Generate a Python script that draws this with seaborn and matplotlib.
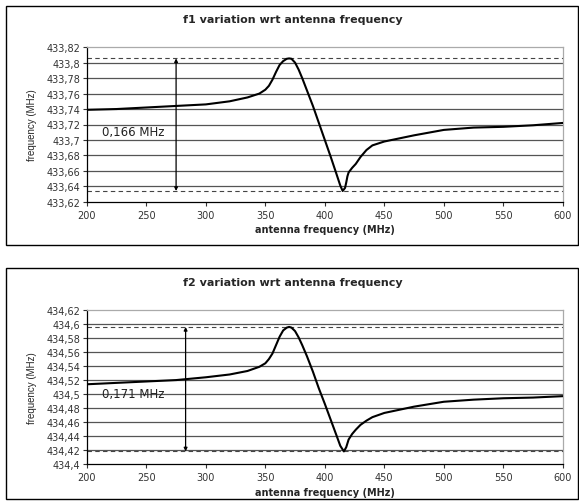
import numpy as np
import pandas as pd
import matplotlib
matplotlib.use("Agg")
import matplotlib.pyplot as plt
import matplotlib.patches as patches
from matplotlib.ticker import FuncFormatter
import seaborn as sns

sns.set_style("white")
plt.rcParams['font.family'] = ['DejaVu Sans']

# antenna frequency (MHz)
ant_f1 = [200, 225, 250, 275, 300, 320, 335, 345, 350, 353, 356, 359, 362, 365, 368, 370,
          372, 375, 378, 381, 385, 390, 395, 400, 405, 410, 413, 415, 417, 418, 419, 420,
          423, 426, 430, 435, 440, 450, 475, 500, 525, 550, 575, 600]
f1 = [433.739, 433.740, 433.742, 433.744, 433.746, 433.750, 433.755, 433.760, 433.765,
      433.770, 433.778, 433.788, 433.797, 433.802, 433.805, 433.8055, 433.805, 433.800,
      433.791, 433.780, 433.764, 433.744, 433.722, 433.700, 433.678, 433.655, 433.641,
      433.634, 433.638, 433.645, 433.653, 433.658, 433.664, 433.669, 433.678, 433.687,
      433.693, 433.698, 433.706, 433.713, 433.716, 433.717, 433.719, 433.722]

ant_f2 = [200, 225, 250, 275, 300, 320, 335, 345, 350, 353, 356, 359, 362, 365, 368, 370,
          372, 375, 378, 381, 385, 390, 395, 400, 405, 410, 413, 416, 418, 420, 423, 426,
          430, 435, 440, 450, 475, 500, 525, 550, 575, 600]
f2 = [434.514, 434.516, 434.518, 434.520, 434.524, 434.528, 434.533, 434.539, 434.544,
      434.550, 434.558, 434.570, 434.582, 434.591, 434.595, 434.596, 434.595, 434.590,
      434.581, 434.570, 434.554, 434.532, 434.508, 434.486, 434.463, 434.440, 434.426,
      434.418, 434.424, 434.435, 434.443, 434.449, 434.456, 434.462, 434.467, 434.473,
      434.482, 434.489, 434.492, 434.494, 434.495, 434.497]

titles = ["f1 variation wrt antenna frequency", "f2 variation wrt antenna frequency"]
spans = ["0,166 MHz", "0,171 MHz"]
arrow_x = [275, 283]
ylims = [(433.62, 433.82), (434.40, 434.62)]
xticks = [200, 250, 300, 350, 400, 450, 500, 550, 600]


def comma(v, pos):
    s = ("%.2f" % v).rstrip("0").rstrip(".")
    return s.replace(".", ",")


fig = plt.figure(figsize=(5.79, 5.02), dpi=100)

# outer chart frames
for (y0, h) in [(0.51, 0.476), (0.004, 0.46)]:
    fig.patches.append(patches.Rectangle((0.0104, y0), 0.9876, h, transform=fig.transFigure,
                                         fill=False, edgecolor="black", linewidth=1.0))

axes_pos = [[0.150, 0.596, 0.822, 0.308], [0.150, 0.0737, 0.822, 0.3065]]
title_y = [0.960, 0.436]

for i, (xs, ys) in enumerate([(ant_f1, f1), (ant_f2, f2)]):
    ax = fig.add_axes(axes_pos[i])
    df = pd.DataFrame({"ant": xs, "freq": ys})
    lo, hi = ylims[i]
    ticks = np.round(np.arange(lo, hi + 1e-6, 0.02), 2)
    for t in ticks[1:-1]:
        ax.axhline(t, color="#555555", linewidth=0.9, zorder=1)
    sns.lineplot(data=df, x="ant", y="freq", color="black", linewidth=1.5, ax=ax, zorder=3)
    ymax, ymin = max(ys), min(ys)
    ax.axhline(ymax, color="#444444", linewidth=0.8, linestyle=(0, (4, 3)), zorder=2)
    ax.axhline(ymin, color="#444444", linewidth=0.8, linestyle=(0, (4, 3)), zorder=2)
    ax.annotate("", xy=(arrow_x[i], ymax), xytext=(arrow_x[i], ymin),
                arrowprops=dict(arrowstyle="<|-|>", color="black", linewidth=0.9,
                                mutation_scale=5, shrinkA=0, shrinkB=0), zorder=4)
    ax.text(213, lo + (hi - lo) * 0.455, spans[i], fontsize=8.5, va="center", ha="left",
            zorder=4, color="#222222")
    ax.set_xlim(200, 600)
    ax.set_ylim(lo, hi)
    ax.set_xticks(xticks)
    ax.set_yticks(ticks)
    ax.yaxis.set_major_formatter(FuncFormatter(comma))
    ax.tick_params(axis="both", labelsize=7, length=3, width=0.8, direction="out",
                   left=True, bottom=True, colors="#333333", pad=3)
    ax.tick_params(axis="y", pad=1.5)
    for side in ["top", "right"]:
        ax.spines[side].set_color("#aaaaaa")
        ax.spines[side].set_linewidth(0.9)
    for side in ["left", "bottom"]:
        ax.spines[side].set_color("black")
        ax.spines[side].set_linewidth(0.9)
    ax.set_xlabel("antenna frequency (MHz)", fontsize=7, fontweight="bold", labelpad=3)
    ax.set_ylabel("frequency (MHz)", fontsize=7, labelpad=7,
                  family=["Liberation Sans Narrow", "Liberation Sans"])
    fig.text(0.505, title_y[i], titles[i], fontsize=8, fontweight="bold", ha="center",
             va="center")

fig.savefig("out.png", dpi=100)
